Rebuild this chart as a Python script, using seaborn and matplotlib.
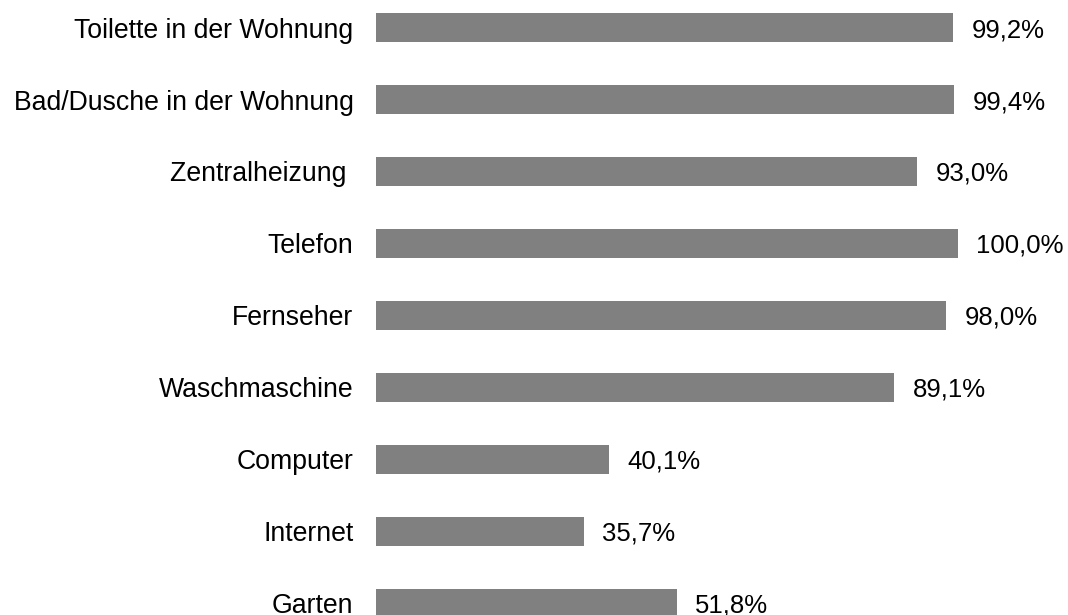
import seaborn as sns
import pandas as pd
import matplotlib.pyplot as plt

categories = ["Toilette in der Wohnung", "Bad/Dusche in der Wohnung", "Zentralheizung ",
              "Telefon", "Fernseher", "Waschmaschine", "Computer", "Internet", "Garten"]
values = [99.2, 99.4, 93.0, 100.0, 98.0, 89.1, 40.1, 35.7, 51.8]
value_labels = ["99,2%", "99,4%", "93,0%", "100,0%", "98,0%", "89,1%", "40,1%", "35,7%", "51,8%"]

df = pd.DataFrame({"cat": categories, "val": values})

plt.rcParams['font.family'] = ['Liberation Sans', 'DejaVu Sans']

fig = plt.figure(figsize=(10.68, 6.15), dpi=100)
ax = fig.add_axes([0.3518, 0, 1 - 0.3518, 1])
sns.barplot(data=df, x="val", y="cat", orient="h", color="#808080", saturation=1,
            width=0.4, ax=ax)

# value labels right of each bar
for i, (v, lab) in enumerate(zip(values, value_labels)):
    ax.annotate(lab, (v, i), xytext=(13, 0), textcoords="offset points",
                va="center_baseline", ha="left", fontsize=18.5, color="black")

ax.set_xlim(0, 118.9)
ax.set_ylim(8.16, -0.382)
ax.set_xlabel("")
ax.set_ylabel("")
ax.set_xticks([])
ax.tick_params(axis="y", length=0, pad=16, labelsize=19.2, labelcolor="black")
for s in ax.spines.values():
    s.set_visible(False)

fig.savefig("out.png", dpi=100)
